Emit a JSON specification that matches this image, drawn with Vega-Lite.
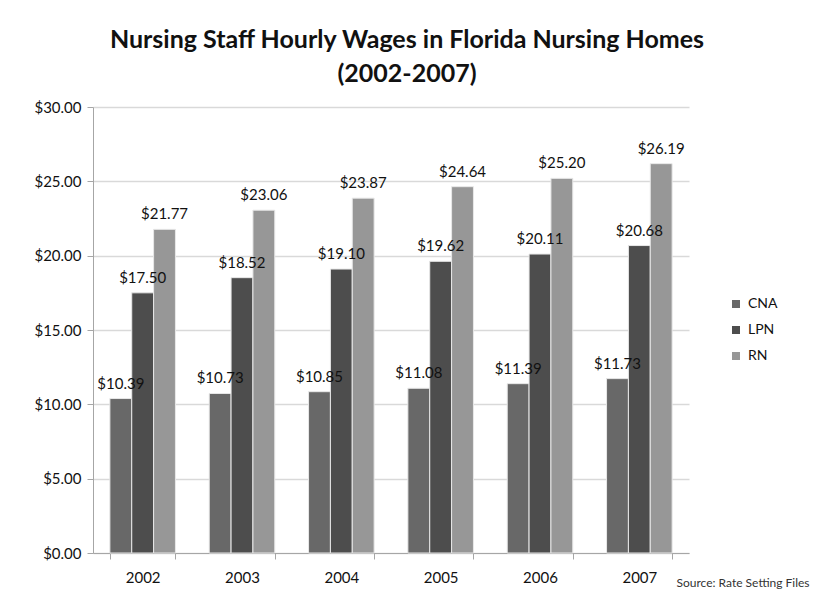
{
  "$schema": "https://vega.github.io/schema/vega-lite/v6.json",
  "width": 596,
  "height": 446,
  "autosize": "none",
  "padding": {"left": 93, "top": 107, "right": 124, "bottom": 45},
  "background": "white",
  "title": {
    "text": ["Nursing Staff Hourly Wages in Florida Nursing Homes", "(2002-2007)"],
    "font": "Lato",
    "fontSize": 25,
    "fontWeight": "bold",
    "color": "#111111",
    "lineHeight": 34,
    "anchor": "middle",
    "dx": 16,
    "offset": 13
  },
  "data": {
    "values": [
      {"year": "2002", "staff": "CNA", "wage": 10.39},
      {"year": "2002", "staff": "LPN", "wage": 17.50},
      {"year": "2002", "staff": "RN", "wage": 21.77},
      {"year": "2003", "staff": "CNA", "wage": 10.73},
      {"year": "2003", "staff": "LPN", "wage": 18.52},
      {"year": "2003", "staff": "RN", "wage": 23.06},
      {"year": "2004", "staff": "CNA", "wage": 10.85},
      {"year": "2004", "staff": "LPN", "wage": 19.10},
      {"year": "2004", "staff": "RN", "wage": 23.87},
      {"year": "2005", "staff": "CNA", "wage": 11.08},
      {"year": "2005", "staff": "LPN", "wage": 19.62},
      {"year": "2005", "staff": "RN", "wage": 24.64},
      {"year": "2006", "staff": "CNA", "wage": 11.39},
      {"year": "2006", "staff": "LPN", "wage": 20.11},
      {"year": "2006", "staff": "RN", "wage": 25.20},
      {"year": "2007", "staff": "CNA", "wage": 11.73},
      {"year": "2007", "staff": "LPN", "wage": 20.68},
      {"year": "2007", "staff": "RN", "wage": 26.19}
    ]
  },
  "encoding": {
    "x": {
      "field": "year",
      "type": "nominal",
      "scale": {"paddingInner": 0.34, "paddingOuter": 0.17},
      "axis": {
        "title": "Source: Rate Setting  Files",
        "titleFont": "Lato",
        "titleFontSize": 12,
        "titleFontWeight": "normal",
        "titleColor": "#333333",
        "titleAnchor": "start",
        "titleAlign": "left",
        "titleBaseline": "alphabetic",
        "titleX": 583,
        "titleY": 33,
        "labelAngle": 0,
        "labelFont": "Lato",
        "labelFontSize": 15,
        "labelColor": "#111111",
        "labelPadding": 11,
        "tickBand": "extent",
        "tickSize": 6,
        "tickColor": "#a6a6a6",
        "domainColor": "#a6a6a6",
        "grid": false
      }
    },
    "xOffset": {"field": "staff", "type": "nominal", "scale": {"paddingInner": 0, "paddingOuter": 0}},
    "y": {
      "field": "wage",
      "type": "quantitative",
      "scale": {"domain": [0, 30]},
      "axis": {
        "title": null,
        "values": [0, 5, 10, 15, 20, 25, 30],
        "format": "$.2f",
        "labelFont": "Lato",
        "labelFontSize": 15,
        "labelColor": "#111111",
        "labelPadding": 6,
        "tickSize": 6,
        "tickColor": "#a6a6a6",
        "domainColor": "#a6a6a6",
        "gridColor": "#d9d9d9",
        "gridWidth": 1.5
      }
    }
  },
  "layer": [
    {
      "mark": {"type": "bar", "stroke": "#e8e8e8", "strokeWidth": 1},
      "encoding": {
        "color": {
          "field": "staff",
          "type": "nominal",
          "scale": {"domain": ["CNA", "LPN", "RN"], "range": ["#686868", "#4d4d4d", "#979797"]},
          "legend": {
            "title": null,
            "orient": "none",
            "legendX": 636,
            "legendY": 190,
            "symbolType": "square",
            "symbolSize": 64,
            "symbolStrokeWidth": 0,
            "labelFont": "Lato",
            "labelFontSize": 14,
            "labelColor": "#111111",
            "rowPadding": 12,
            "labelOffset": 5
          }
        }
      }
    },
    {
      "mark": {"type": "text", "dy": -10, "baseline": "alphabetic", "font": "Lato", "fontSize": 15, "color": "#111111"},
      "encoding": {
        "text": {"field": "wage", "type": "quantitative", "format": "$.2f"}
      }
    }
  ],
  "config": {
    "view": {"stroke": null}
  }
}
